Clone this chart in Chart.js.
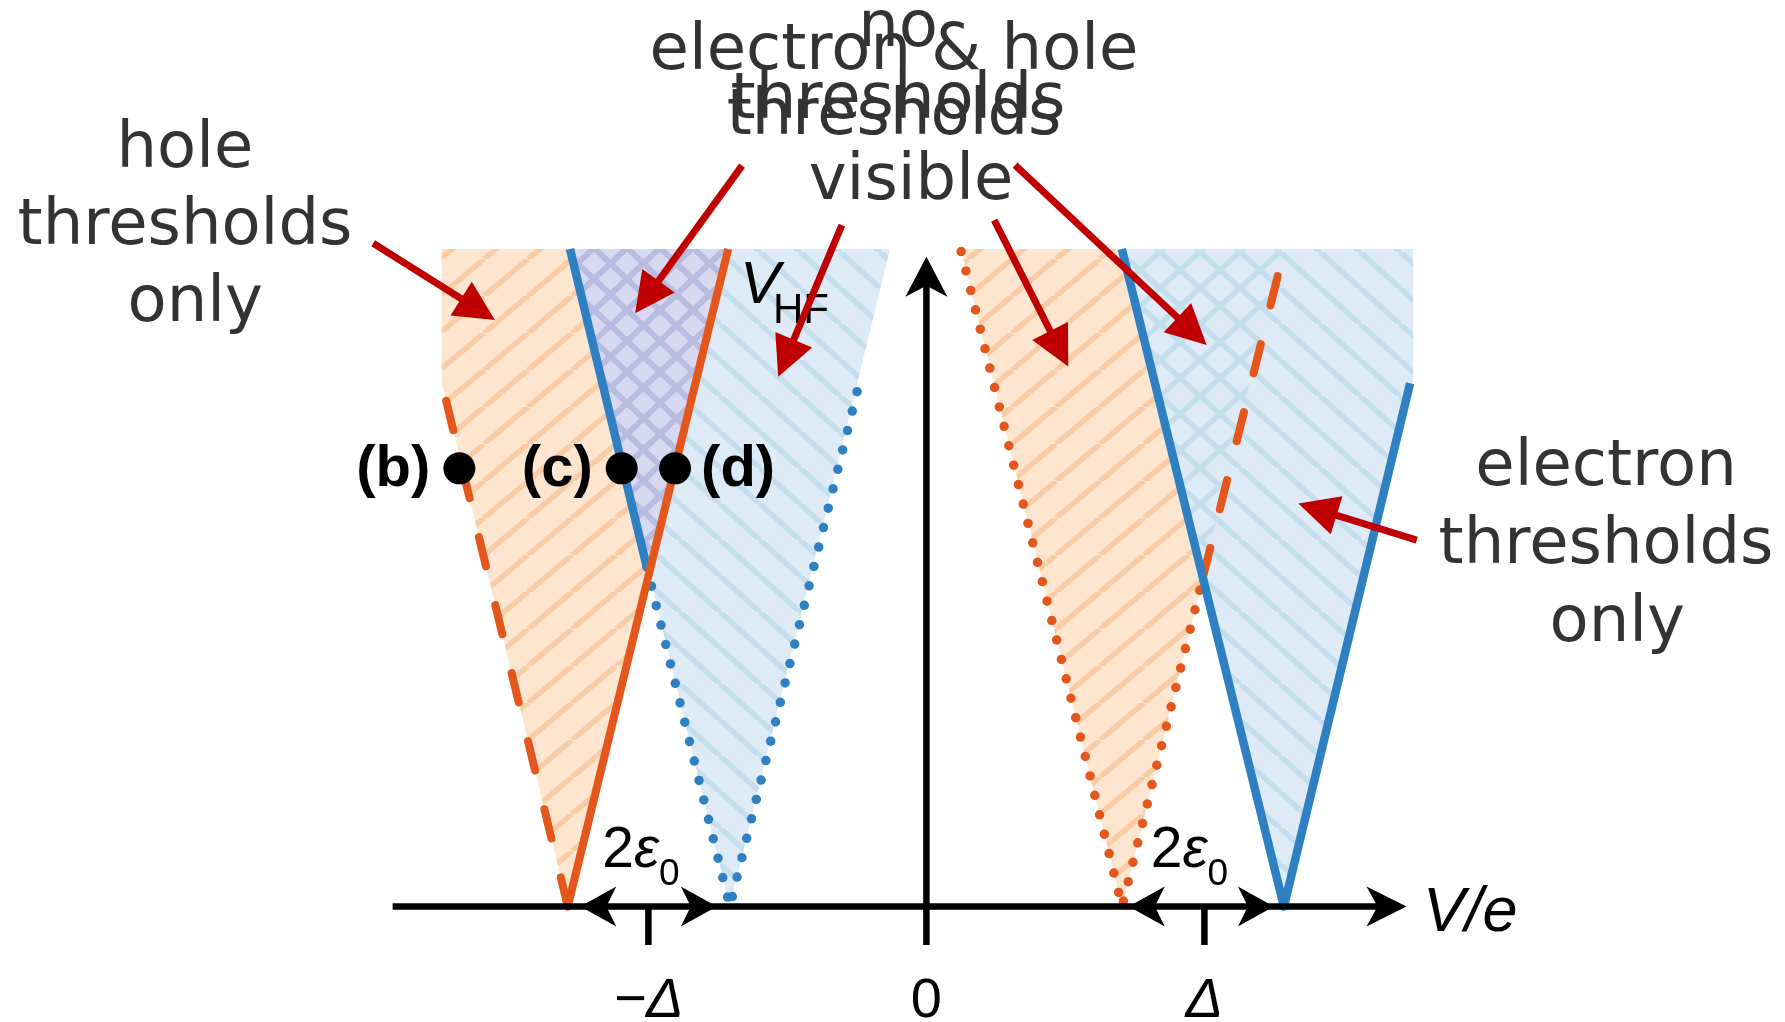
<!DOCTYPE html>
<html>
<head>
<meta charset="utf-8">
<script src="https://cdn.jsdelivr.net/npm/chart.js@4.4.1/dist/chart.umd.min.js"></script>
<style>
  html, body { margin: 0; padding: 0; background: #ffffff; }
  #wrap { width: 1785px; height: 1022px; }
</style>
</head>
<body>
<div id="wrap"><canvas id="chart" width="1785" height="1022"></canvas></div>
<script>
// Bias V/e on x (in units of Δ), V_HF on y (same units).
// Threshold lines near -Δ
const leftHoleSolid      = [[-1.290, 0], [-0.713, 2.365]];
const leftHoleDashed     = [[-1.290, 0], [-1.744, 1.888]];
const leftElectronSolid  = [[-1.282, 2.365], [-1.006, 1.222]];
const leftElectronDotted = [[-1.006, 1.222], [-0.707, 0], [-0.239, 1.894]];
// Threshold lines near +Δ
const rightHoleDotted    = [[0.125, 2.356], [0.704, 0], [0.995, 1.185]];
const rightHoleDashed    = [[0.995, 1.185], [1.272, 2.301]];
const rightElectronSolid = [[0.703, 2.365], [1.286, 0], [1.740, 1.882]];

// Shaded regions
const leftHoleArea      = [[-1.744, 2.365], [-1.744, 1.888], [-1.290, 0], [-0.713, 2.365]];
const leftElectronArea  = [[-1.282, 2.365], [-0.707, 0], [-0.131, 2.365]];
const leftBothArea      = [[-1.282, 2.365], [-1.006, 1.222], [-0.713, 2.365]];
const rightHoleArea     = [[0.125, 2.365], [0.704, 0], [0.995, 1.185], [0.703, 2.365]];
const rightElectronArea = [[0.703, 2.365], [1.286, 0], [1.751, 1.898], [1.751, 2.365]];
const rightBothArea     = [[0.703, 2.365], [0.995, 1.185], [1.278, 2.365]];

// Marked operating points
const markerX = [-1.680, -1.096, -0.904];
const markerY = [1.576, 1.576, 1.576];
const markerLabels = ['(b)', '(c)', '(d)'];

// Axis ticks
const tickValues = [-1, 0, 1];
const tickLabels = ['−Δ', '0', 'Δ'];

// 2ε0 spans on the bias axis
const epsilonSpans = [[-1.245, -0.754], [0.728, 1.250]];

// Axis extents
const axisXRange = [-1.920, 1.727];
const axisYRange = [-0.1385, 2.337];

// Pointer arrows: [tail, head]
const pointerArrows = [
  [[-1.990, 2.386], [-1.552, 2.110]],
  [[-0.663, 2.665], [-1.048, 2.134]],
  [[-0.304, 2.451], [-0.533, 1.906]],
  [[0.244, 2.469], [0.510, 1.942]],
  [[0.319, 2.667], [1.008, 2.020]],
  [[1.764, 1.318], [1.338, 1.450]]
];

// Region captions
const captions = [
  { text: 'hole',            x: -2.667, y: 2.660 },
  { text: 'thresholds',      x: -2.667, y: 2.383 },
  { text: 'only',            x: -2.630, y: 2.106 },
  { text: 'electron & hole', x: -0.1165, y: 3.0126 },
  { text: 'thresholds',      x: -0.1022, y: 2.8381 },
  { text: 'no',              x: -0.1022, y: 3.0953 },
  { text: 'thresholds',      x: -0.1165, y: 2.7770 },
  { text: 'visible',         x: -0.0554, y: 2.5432 },
  { text: 'electron',        x: 2.4446, y: 1.5162 },
  { text: 'thresholds',      x: 2.4446, y: 1.2356 },
  { text: 'only',            x: 2.4850, y: 0.955 }
];

const COLORS = {
  orangeLine: '#e4561c',
  blueLine: '#2f80c2',
  red: '#c00000',
  text: '#333333'
};

const canvas = document.getElementById('chart');
const ctx = canvas.getContext('2d');

function makeHatch(w, h, bg, fg, lw, dirs) {
  const c = document.createElement('canvas');
  c.width = w; c.height = h;
  const g = c.getContext('2d');
  g.fillStyle = bg;
  g.fillRect(0, 0, w, h);
  g.strokeStyle = fg;
  g.lineWidth = lw;
  g.beginPath();
  for (const d of dirs) {
    for (const k of [-1, 0, 1]) {
      if (d === '/') { g.moveTo(k * w, h); g.lineTo(k * w + w, 0); }
      else { g.moveTo(k * w, 0); g.lineTo(k * w + w, h); }
    }
  }
  g.stroke();
  return ctx.createPattern(c, 'repeat');
}

const hatch = {
  hole: makeHatch(44, 37, '#fde5d0', '#f9cca6', 5.5, ['/']),
  electron: makeHatch(40, 36, '#deebf7', '#c4deee', 5.5, ['\\']),
  both: makeHatch(33, 31, '#d8d9f0', '#b9bce1', 6, ['/', '\\']),
  bothRight: makeHatch(40, 36, '#deebf7', '#c4deee', 5.5, ['/', '\\'])
};

const pts = arr => arr.map(([x, y]) => ({ x, y }));

function area(data, pattern, order) {
  return {
    data: pts(data), showLine: true, fill: 'shape',
    backgroundColor: pattern, borderColor: 'rgba(0,0,0,0)', borderWidth: 0,
    pointRadius: 0, order
  };
}

function line(data, color, width, dash, order) {
  return {
    data: pts(data), showLine: true, fill: false,
    borderColor: color, borderWidth: width, borderDash: dash,
    borderCapStyle: dash.length ? 'round' : 'butt', borderJoinStyle: 'round',
    pointRadius: 0, order
  };
}

const DOT = [0, 20];
const DASH = [30, 40];

const datasets = [
  area(leftHoleArea, hatch.hole, 30),
  area(leftElectronArea, hatch.electron, 30),
  area(rightHoleArea, hatch.hole, 30),
  area(rightElectronArea, hatch.electron, 30),
  area(leftBothArea, hatch.both, 25),
  area(rightBothArea, hatch.bothRight, 25),
  line(leftHoleDashed, COLORS.orangeLine, 8, DASH, 10),
  line(leftElectronDotted, COLORS.blueLine, 9.5, DOT, 10),
  line(leftElectronSolid, COLORS.blueLine, 8.5, [], 9),
  line(leftHoleSolid, COLORS.orangeLine, 8, [], 8),
  line(rightHoleDotted, COLORS.orangeLine, 9.5, DOT, 10),
  line(rightHoleDashed, COLORS.orangeLine, 8, DASH, 10),
  line(rightElectronSolid, COLORS.blueLine, 8.5, [], 9),
  {
    data: markerX.map((x, i) => ({ x, y: markerY[i] })),
    showLine: false, pointRadius: 16, pointBackgroundColor: '#000000',
    pointBorderWidth: 0, order: 1
  }
];

function axisHead(c, x, y, ang, len, half, notch) {
  c.save();
  c.translate(x, y);
  c.rotate(ang);
  c.beginPath();
  c.moveTo(0, 0);
  c.lineTo(-len, half);
  c.lineTo(-len + notch, 0);
  c.lineTo(-len, -half);
  c.closePath();
  c.fillStyle = '#000000';
  c.fill();
  c.restore();
}

function pointer(c, x1, y1, x2, y2) {
  const ang = Math.atan2(y2 - y1, x2 - x1);
  const L = 40, H = 20;
  const cs = Math.cos(ang), sn = Math.sin(ang);
  const bx = x2 - L * cs, by = y2 - L * sn;
  c.strokeStyle = COLORS.red;
  c.lineWidth = 7;
  c.lineCap = 'butt';
  c.beginPath();
  c.moveTo(x1, y1);
  c.lineTo(bx + 4 * cs, by + 4 * sn);
  c.stroke();
  c.fillStyle = COLORS.red;
  c.beginPath();
  c.moveTo(x2, y2);
  c.lineTo(bx - H * sn, by + H * cs);
  c.lineTo(bx + H * sn, by - H * cs);
  c.closePath();
  c.fill();
}

const SANS = '"Liberation Sans", Arial, sans-serif';

const overlay = {
  id: 'overlay',
  afterDatasetsDraw(chart) {
    const c = chart.ctx;
    const X = v => chart.scales.x.getPixelForValue(v);
    const Y = v => chart.scales.y.getPixelForValue(v);
    c.save();

    // bias axis, V_HF axis and ticks
    c.strokeStyle = '#000000';
    c.lineWidth = 6.5;
    c.lineCap = 'butt';
    c.beginPath();
    c.moveTo(X(axisXRange[0]), Y(0));
    c.lineTo(X(axisXRange[1]) - 20, Y(0));
    c.moveTo(X(0), Y(axisYRange[0]));
    c.lineTo(X(0), Y(axisYRange[1]) + 20);
    for (const t of tickValues) {
      c.moveTo(X(t), Y(0));
      c.lineTo(X(t), Y(axisYRange[0]));
    }
    c.stroke();
    axisHead(c, X(axisXRange[1]), Y(0), 0, 40, 20, 11);
    axisHead(c, X(0), Y(axisYRange[1]), -Math.PI / 2, 40, 21, 11);

    // 2ε0 double arrows
    for (const [a, b] of epsilonSpans) {
      axisHead(c, X(a), Y(0), Math.PI, 36, 20, 10);
      axisHead(c, X(b), Y(0), 0, 36, 20, 10);
    }

    // tick labels
    c.fillStyle = '#000000';
    c.textAlign = 'center';
    c.textBaseline = 'alphabetic';
    tickLabels.forEach((lab, i) => {
      c.font = (lab === '0' ? '' : 'italic ') + '56px ' + SANS;
      c.fillText(lab, X(tickValues[i]), Y(-0.396));
    });

    // axis title
    c.textAlign = 'left';
    c.font = 'italic 63px ' + SANS;
    c.fillText('V/e', X(1.786), Y(-0.088));

    // V_HF label
    c.font = 'italic 60px ' + SANS;
    c.fillText('V', X(-0.6705), Y(2.171));
    c.font = '42px ' + SANS;
    c.fillText('HF', X(-0.6705) + 33, Y(2.171) + 20);

    // 2ε0 labels
    for (const [a] of epsilonSpans) {
      const x0 = X(a) + 22, y0 = Y(0.143);
      c.font = '57px ' + SANS;
      c.fillText('2', x0, y0);
      const w2 = c.measureText('2').width;
      c.font = 'italic 57px ' + SANS;
      c.fillText('ε', x0 + w2, y0);
      const we = c.measureText('ε').width;
      c.font = '37px ' + SANS;
      c.fillText('0', x0 + w2 + we, y0 + 18);
    }

    // operating point labels
    c.font = 'bold 58px ' + SANS;
    markerLabels.forEach((lab, i) => {
      const px = X(markerX[i]), py = Y(markerY[i]) + 18;
      if (i === 2) { c.textAlign = 'left'; c.fillText(lab, px + 26, py); }
      else { c.textAlign = 'right'; c.fillText(lab, px - 29, py); }
    });

    // pointer arrows
    for (const [[x1, y1], [x2, y2]] of pointerArrows) {
      pointer(c, X(x1), Y(y1), X(x2), Y(y2));
    }

    // captions
    c.fillStyle = COLORS.text;
    c.textAlign = 'center';
    c.font = '64px "DejaVu Sans", Verdana, sans-serif';
    for (const cap of captions) {
      c.fillText(cap.text, X(cap.x), Y(cap.y));
    }
    c.restore();
  }
};

new Chart(canvas, {
  type: 'scatter',
  data: { datasets },
  options: {
    responsive: false,
    animation: false,
    devicePixelRatio: 1,
    layout: { padding: 0, autoPadding: false },
    events: [],
    plugins: { legend: { display: false }, tooltip: { enabled: false } },
    elements: { line: { tension: 0 } },
    scales: {
      x: { type: 'linear', min: -3.3324, max: 3.0885, display: false },
      y: { type: 'linear', min: -0.4155, max: 3.2608, display: false }
    }
  },
  plugins: [overlay]
});
</script>
</body>
</html>
